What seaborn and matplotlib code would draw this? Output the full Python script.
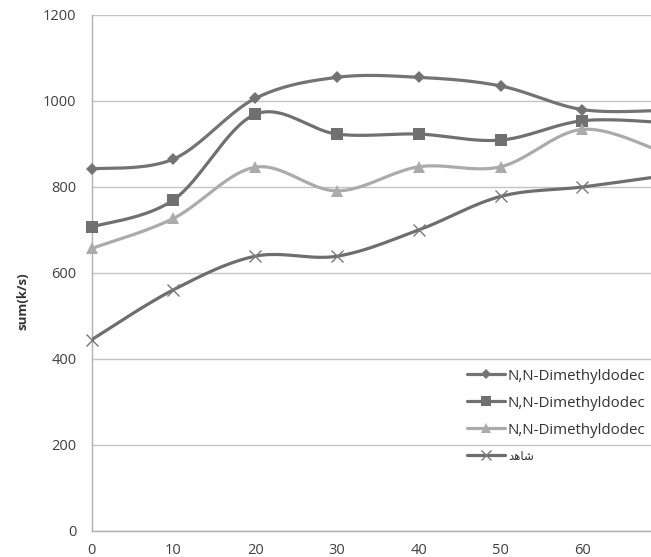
import numpy as np
import seaborn as sns
import matplotlib.pyplot as plt
from matplotlib.lines import Line2D

sns.set_theme(style="white")
plt.rcParams['font.family'] = ['Open Sans', 'DejaVu Sans']

# data
x_vals = [0, 10, 20, 30, 40, 50, 60, 70]
diamond_vals = [842, 865, 1006, 1055, 1055, 1035, 980, 978]
square_vals = [707, 770, 969, 923, 923, 909, 954, 950]
triangle_vals = [657, 727, 846, 791, 847, 847, 934, 880]
cross_vals = [445, 561, 639, 639, 700, 778, 800, 826]
series_names = ["N,N-Dimethyldodec", "N,N-Dimethyldodec", "N,N-Dimethyldodec", "شاهد"]
y_ticks = [0, 200, 400, 600, 800, 1000, 1200]
x_ticks = [0, 10, 20, 30, 40, 50, 60]

# matplotlib does not shape arabic, so give it the joined glyph forms
shaped = {"شاهد": "\ufeaa\ufeeb\ufe8e\ufeb7"}


def smooth(xs, ys, steps=24):
    # excel-like smoothed line (bezier through the points)
    p = np.column_stack([xs, ys]).astype(float)
    n = len(p)
    out = []
    for i in range(n - 1):
        p0 = p[i - 1] if i > 0 else p[i]
        p3 = p[i + 2] if i + 2 < n else p[i + 1]
        c1 = p[i] + (p[i + 1] - p0) / 6
        c2 = p[i + 1] - (p3 - p[i]) / 6
        t = np.linspace(0, 1, steps)[:, None]
        seg = ((1 - t) ** 3) * p[i] + 3 * ((1 - t) ** 2) * t * c1 + 3 * (1 - t) * t ** 2 * c2 + t ** 3 * p[i + 1]
        out.append(seg if i == 0 else seg[1:])
    out = np.vstack(out)
    return out[:, 0], out[:, 1]


styles = [
    dict(color="#737373", marker="D", ms=6, mew=0),
    dict(color="#707070", marker="s", ms=8.5, mew=0),
    dict(color="#ababab", marker="^", ms=8.5, mew=0),
    dict(color="#6e6e6e", marker="x", ms=8, mew=1.0),
]
all_vals = [diamond_vals, square_vals, triangle_vals, cross_vals]

fig = plt.figure(figsize=(6.51, 5.57), dpi=100)
ax = fig.add_axes([0.1409, 0.0467, 0.8591, 0.9264])

handles = []
for vals, st, name in zip(all_vals, styles, series_names):
    sx, sy = smooth(x_vals, vals)
    sns.lineplot(x=sx, y=sy, sort=False, ax=ax, color=st["color"], linewidth=2.3, zorder=3)
    mcol = "#7a7a7a" if st["marker"] == "x" else st["color"]
    ax.plot(x_vals, vals, linestyle="none", marker=st["marker"], ms=st["ms"],
            color=mcol, mew=st["mew"], zorder=4, clip_on=False)
    handles.append(Line2D([], [], color=st["color"], linewidth=2.3, marker=st["marker"],
                          ms=st["ms"] * 0.85, mew=st["mew"], markeredgecolor=mcol,
                          label=shaped.get(name, name)))

ax.set_xlim(0, 68.4)
ax.set_ylim(0, 1200)
ax.set_xticks(x_ticks)
ax.set_yticks(y_ticks)
ax.yaxis.grid(True, color="#c4c4c4", linewidth=1.0)
ax.set_axisbelow(True)
for s in ["top", "right"]:
    ax.spines[s].set_visible(False)
for s in ["left", "bottom"]:
    ax.spines[s].set_color("#b0b0b0")
    ax.spines[s].set_linewidth(1.0)
ax.tick_params(axis="both", direction="out", length=5, width=1, color="#b0b0b0",
               labelsize=10.5, labelcolor="#404040", pad=4)
ax.tick_params(axis="y", pad=6)
ax.set_xlabel("")
ax.set_ylabel("")

fig.text(0.035, 0.46, "sum(k/s)", rotation=90, ha="center", va="center",
         fontsize=9.5, fontweight="bold", color="#333333")

leg = fig.legend(handles=handles, loc="upper left", bbox_to_anchor=(0.718, 0.338),
                 frameon=False, fontsize=10.8, handlelength=2.5, handletextpad=0.2,
                 labelspacing=0.8, borderpad=0, borderaxespad=0)
for t in leg.get_texts():
    t.set_color("#333333")
leg.get_texts()[3].set_fontsize(8.5)

fig.savefig("out.png", dpi=100)
